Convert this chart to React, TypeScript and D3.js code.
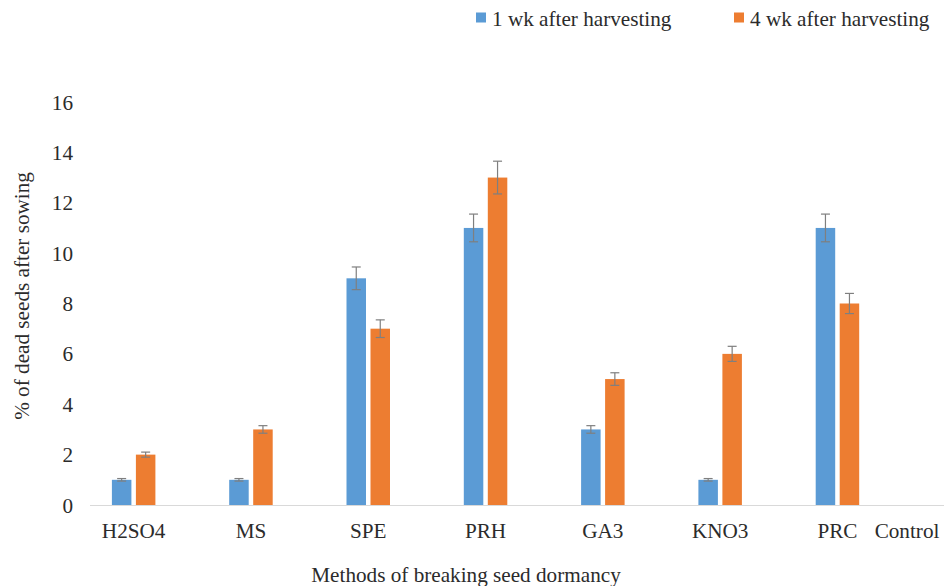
import React, { useEffect, useRef } from 'react';
import * as d3 from 'd3';

const categories = ['H2SO4', 'MS', 'SPE', 'PRH', 'GA3', 'KNO3', 'PRC', 'Control'];
const seriesNames = ['1 wk after harvesting', '4 wk after harvesting'];
const week1 = [1, 1, 9, 11, 3, 1, 11, 0];
const week4 = [2, 3, 7, 13, 5, 6, 8, 0];
const week1Err = [0.05, 0.05, 0.45, 0.55, 0.15, 0.05, 0.55, 0];
const week4Err = [0.1, 0.15, 0.35, 0.65, 0.25, 0.3, 0.4, 0];
const yTicks = [0, 2, 4, 6, 8, 10, 12, 14, 16];
const colors = ['#5B9BD5', '#ED7D31'];

const FONT = "'Liberation Serif', 'DejaVu Serif', serif";

const App = () => {
  const svgRef = useRef<SVGSVGElement>(null);
  const width = 944;
  const height = 586;

  useEffect(() => {
    const svg = d3.select(svgRef.current);
    svg.selectAll('*').remove();

    const x = d3.scaleBand().domain(categories).range([76.5, 76.5 + 8 * 117.3]).padding(0);
    const y = d3.scaleLinear().domain([0, 16]).range([505, 102]);

    const txt = (sel: any) => sel
      .attr('font-family', FONT)
      .attr('font-size', 21.2)
      .attr('fill', '#2b2b2b');

    // y tick labels
    svg.append('g')
      .selectAll('text')
      .data(yTicks)
      .enter()
      .append('text')
      .attr('x', 73)
      .attr('y', d => y(d) + 7.5)
      .attr('text-anchor', 'end')
      .call(txt)
      .text(d => d);

    // x axis line
    svg.append('line')
      .attr('x1', 90).attr('x2', 944)
      .attr('y1', y(0) + 0.5).attr('y2', y(0) + 0.5)
      .attr('stroke', '#d9d9d9').attr('stroke-width', 1.2);

    const barW = 19.5;
    const gap = 4.5;
    const series = [
      { vals: week1, errs: week1Err, off: -gap / 2 - barW },
      { vals: week4, errs: week4Err, off: gap / 2 },
    ];

    series.forEach((s, si) => {
      const g = svg.append('g');
      const data = categories.map((c, i) => ({ c, v: s.vals[i], e: s.errs[i] })).filter(d => d.v > 0);
      const cx = (c: string) => (x(c) as number) + x.bandwidth() / 2 - 1.5;
      g.selectAll('rect')
        .data(data)
        .enter()
        .append('rect')
        .attr('x', d => cx(d.c) + s.off)
        .attr('y', d => y(d.v))
        .attr('width', barW)
        .attr('height', d => y(0) - y(d.v))
        .attr('fill', colors[si]);

      const eg = g.selectAll('g.err').data(data).enter().append('g').attr('class', 'err');
      const mid = (d: any) => cx(d.c) + s.off + barW / 2;
      eg.append('line')
        .attr('x1', mid).attr('x2', mid)
        .attr('y1', d => y(d.v + d.e)).attr('y2', d => y(d.v - d.e))
        .attr('stroke', '#7f7f7f').attr('stroke-width', 1.2);
      [1, -1].forEach(sign => {
        eg.append('line')
          .attr('x1', d => mid(d) - 4.5).attr('x2', d => mid(d) + 4.5)
          .attr('y1', d => y(d.v + sign * d.e)).attr('y2', d => y(d.v + sign * d.e))
          .attr('stroke', '#7f7f7f').attr('stroke-width', 1.2);
      });
    });

    // x labels
    svg.append('g')
      .selectAll('text')
      .data(categories)
      .enter()
      .append('text')
      .attr('x', d => Math.min((x(d) as number) + x.bandwidth() / 2 - 1.5, 907))
      .attr('y', 538)
      .attr('text-anchor', 'middle')
      .call(txt)
      .text(d => d);

    // axis titles
    svg.append('text')
      .attr('x', 466)
      .attr('y', 582)
      .attr('text-anchor', 'middle')
      .call(txt)
      .text('Methods of breaking seed dormancy');

    svg.append('text')
      .attr('transform', 'translate(29,296) rotate(-90)')
      .attr('text-anchor', 'middle')
      .call(txt)
      .text('% of dead seeds after sowing');

    // legend
    const legendX = [476, 734];
    const lg = svg.append('g')
      .selectAll('g')
      .data(seriesNames)
      .enter()
      .append('g')
      .attr('transform', (d, i) => `translate(${legendX[i]},0)`);
    lg.append('rect')
      .attr('x', 0).attr('y', 12.5)
      .attr('width', 10).attr('height', 10)
      .attr('fill', (d, i) => colors[i]);
    lg.append('text')
      .attr('x', 16).attr('y', 25.5)
      .call(txt)
      .text(d => d);
  }, []);

  return (
    <svg ref={svgRef} width={width} height={height}
      style={{ position: 'absolute', left: 0, top: 0, background: '#fff' }} />
  );
};

export default App;
